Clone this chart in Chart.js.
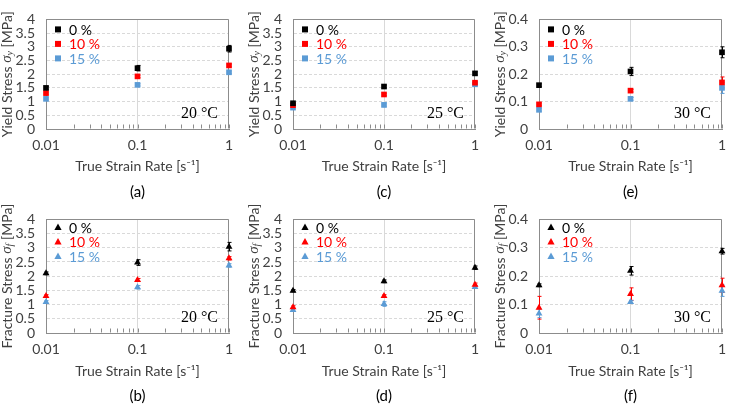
<!DOCTYPE html>
<html>
<head>
<meta charset="utf-8">
<script src="https://cdn.jsdelivr.net/npm/chart.js@4.4.1/dist/chart.umd.min.js"></script>
<style>
  html, body { margin: 0; padding: 0; background: #fff; }
  #fig { position: relative; width: 735px; height: 405px; overflow: hidden; }
  #fig canvas { position: absolute; }
</style>
</head>
<body>
<div id="fig"></div>
<script>
// ---- data ----
const strainRates  = [0.01, 0.1, 1];
const xGridValues  = [0.01, 0.02, 0.03, 0.04, 0.05, 0.06, 0.07, 0.08, 0.09,
                      0.1, 0.2, 0.3, 0.4, 0.5, 0.6, 0.7, 0.8, 0.9, 1];
const xTickLabels  = ["0.01", "0.1", "1"];
const seriesLabels = ["0 %", "10 %", "15 %"];
const ticksHigh    = [0, 0.5, 1, 1.5, 2, 2.5, 3, 3.5, 4];
const ticksLow     = [0, 0.1, 0.2, 0.3, 0.4];

// yield stress [MPa], rows = 0 %, 10 %, 15 %
const yield20    = [[1.50, 2.22, 2.93], [1.31, 1.92, 2.32], [1.10, 1.61, 2.07]];
const yield20Err = [[0.05, 0.10, 0.12], [0.04, 0.05, 0.05], [0.04, 0.04, 0.05]];
const yield25    = [[0.94, 1.55, 2.03], [0.87, 1.26, 1.69], [0.78, 0.88, 1.63]];
const yield25Err = [[0.04, 0.05, 0.06], [0.03, 0.04, 0.04], [0.04, 0.07, 0.05]];
const yield30    = [[0.16, 0.21, 0.28], [0.09, 0.14, 0.17], [0.07, 0.11, 0.15]];
const yield30Err = [[0.005, 0.015, 0.02], [0.005, 0.005, 0.02], [0.005, 0.005, 0.02]];

// fracture stress [MPa]
const fract20    = [[2.10, 2.48, 3.04], [1.30, 1.87, 2.63], [1.09, 1.61, 2.38]];
const fract20Err = [[0.05, 0.10, 0.15], [0.05, 0.05, 0.06], [0.05, 0.06, 0.06]];
const fract25    = [[1.49, 1.82, 2.30], [0.91, 1.30, 1.70], [0.81, 1.02, 1.62]];
const fract25Err = [[0.04, 0.05, 0.06], [0.05, 0.05, 0.06], [0.05, 0.08, 0.05]];
const fract30    = [[0.168, 0.219, 0.288], [0.089, 0.137, 0.168], [0.069, 0.109, 0.149]];
const fract30Err = [[0.005, 0.015, 0.01], [0.04, 0.022, 0.025], [0.015, 0.005, 0.02]];

// ---- style ----
const FONT   = 'Lato, "Open Sans", sans-serif';
const SERIF  = '"Liberation Serif", "DejaVu Serif", serif';
const TEXT   = "#404040";
const FRAME  = "#8c8c8c";
const GRID   = "#d9d9d9";
const COLORS = ["#000000", "#ff0000", "#5b9bd5"];

// panel layout: cell + plot rectangle (absolute px)
const panels = [
  { letter: "(a)", temp: "20 °C", kind: "Yield",    sub: "y", values: yield20, errors: yield20Err, ticks: ticksHigh, style: "rect",
    cell: [0, 0, 245, 200],   plot: [46, 14, 229, 129] },
  { letter: "(c)", temp: "25 °C", kind: "Yield",    sub: "y", values: yield25, errors: yield25Err, ticks: ticksHigh, style: "rect",
    cell: [245, 0, 245, 200], plot: [293, 14, 475, 129] },
  { letter: "(e)", temp: "30 °C", kind: "Yield",    sub: "y", values: yield30, errors: yield30Err, ticks: ticksLow, style: "rect",
    cell: [490, 0, 245, 200], plot: [539, 14, 722, 129] },
  { letter: "(b)", temp: "20 °C", kind: "Fracture", sub: "f", values: fract20, errors: fract20Err, ticks: ticksHigh, style: "triangle",
    cell: [0, 200, 245, 205],   plot: [46, 217, 229, 333] },
  { letter: "(d)", temp: "25 °C", kind: "Fracture", sub: "f", values: fract25, errors: fract25Err, ticks: ticksHigh, style: "triangle",
    cell: [245, 200, 245, 205], plot: [293, 217, 475, 333] },
  { letter: "(f)", temp: "30 °C", kind: "Fracture", sub: "f", values: fract30, errors: fract30Err, ticks: ticksLow, style: "triangle",
    cell: [490, 200, 245, 205], plot: [539, 217, 722, 333] },
];

const isMajor = (v) => strainRates.some((r) => Math.abs(r - v) < r * 1e-6);

function drawMarker(ctx, style, x, y, r, color) {
  ctx.fillStyle = color;
  ctx.beginPath();
  if (style === "rect") {
    ctx.rect(x - r, y - r, 2 * r, 2 * r);
  } else {
    ctx.moveTo(x, y - r * 1.1);
    ctx.lineTo(x + r, y + r * 0.75);
    ctx.lineTo(x - r, y + r * 0.75);
    ctx.closePath();
  }
  ctx.fill();
}

// frame, inner minor ticks, error bars
const underlay = {
  id: "underlay",
  beforeDatasetsDraw(chart) {
    const { ctx, chartArea: a, scales: { x, y } } = chart;
    ctx.save();
    ctx.strokeStyle = FRAME;
    ctx.lineWidth = 1;
    const L = Math.round(a.left) + 0.5, R = Math.round(a.right) - 0.5;
    const T = Math.round(a.top) + 0.5, B = Math.round(a.bottom) - 0.5;
    ctx.beginPath();
    ctx.moveTo(L, T); ctx.lineTo(R, T); ctx.lineTo(R, B);
    ctx.stroke();

    ctx.beginPath();
    xGridValues.forEach((v) => {
      const px = Math.round(x.getPixelForValue(v)) + 0.5;
      ctx.moveTo(px, B);
      ctx.lineTo(px, B - 4);
    });
    ctx.stroke();

    chart.data.datasets.forEach((ds) => {
      ctx.strokeStyle = ds.backgroundColor;
      ctx.beginPath();
      ds.data.forEach((p, j) => {
        const e = ds.errors[j];
        const px = Math.round(x.getPixelForValue(p.x)) + 0.5;
        const yt = y.getPixelForValue(p.y + e);
        const yb = y.getPixelForValue(p.y - e);
        ctx.moveTo(px, yt); ctx.lineTo(px, yb);
        ctx.moveTo(px - 2, yt); ctx.lineTo(px + 2, yt);
        ctx.moveTo(px - 2, yb); ctx.lineTo(px + 2, yb);
      });
      ctx.stroke();
    });
    ctx.restore();
  }
};

// legend, temperature, y title, panel letter
const overlay = {
  id: "overlay",
  afterDraw(chart, args, opts) {
    const { ctx, chartArea: a } = chart;
    const p = opts.panel;
    ctx.save();

    // legend inside plot
    ctx.textBaseline = "middle";
    ctx.textAlign = "left";
    ctx.font = "14px " + FONT;
    const top = p.style === "rect" ? 10 : 8;
    seriesLabels.forEach((lab, i) => {
      const cy = a.top + top + i * 14.5;
      drawMarker(ctx, p.style, a.left + 12, cy, p.style === "rect" ? 3 : 3.6, COLORS[i]);
      ctx.fillStyle = COLORS[i];
      ctx.fillText(lab, a.left + 23, cy + 1);
    });

    // temperature
    ctx.font = "16px " + SERIF;
    ctx.fillStyle = "#000";
    ctx.textAlign = "right";
    ctx.fillText(p.temp, a.right - 11, a.bottom - 15);

    // panel letter
    ctx.font = "15px " + FONT;
    ctx.textAlign = "center";
    ctx.fillStyle = "#000";
    ctx.fillText(p.letter, (a.left + a.right) / 2, a.bottom + 63);

    // rotated y title with italic sigma and subscript
    const parts = [
      { t: p.kind + " Stress ", f: "14px " + FONT, dy: 0 },
      { t: "σ", f: "italic 15px " + SERIF, dy: 0 },
      { t: p.sub, f: "italic 10px " + SERIF, dy: 3 },
      { t: " [MPa]", f: "14px " + FONT, dy: 0 },
    ];
    let w = 0;
    parts.forEach((q) => { ctx.font = q.f; q.w = ctx.measureText(q.t).width; w += q.w; });
    ctx.translate(a.left - 39, (a.top + a.bottom) / 2);
    ctx.rotate(-Math.PI / 2);
    ctx.fillStyle = TEXT;
    ctx.textAlign = "left";
    let cx = -w / 2;
    parts.forEach((q) => {
      ctx.font = q.f;
      ctx.fillText(q.t, cx, q.dy);
      cx += q.w;
    });
    ctx.restore();
  }
};

const fig = document.getElementById("fig");

panels.forEach((p) => {
  const [cx, cy, cw, ch] = p.cell;
  const [pl, pt, pr, pb] = p.plot;
  const canvas = document.createElement("canvas");
  canvas.width = cw; canvas.height = ch;
  canvas.style.left = cx + "px"; canvas.style.top = cy + "px";
  canvas.style.width = cw + "px"; canvas.style.height = ch + "px";
  fig.appendChild(canvas);

  const datasets = seriesLabels.map((lab, i) => ({
    label: lab,
    data: strainRates.map((r, j) => ({ x: r, y: p.values[i][j] })),
    errors: p.errors[i],
    backgroundColor: COLORS[i],
    borderColor: COLORS[i],
    pointStyle: p.style,
    pointRadius: 4,
    pointBorderWidth: 0,
    clip: false,
  }));

  new Chart(canvas, {
    type: "scatter",
    data: { datasets },
    options: {
      responsive: false,
      animation: false,
      devicePixelRatio: 1,
      layout: { padding: { top: pt - cy, right: cx + cw - pr, left: 0, bottom: 0 } },
      plugins: {
        legend: { display: false },
        tooltip: { enabled: false },
        overlay: { panel: p },
      },
      scales: {
        x: {
          type: "logarithmic",
          min: 0.01, max: 1,
          afterBuildTicks: (s) => { s.ticks = xGridValues.map((v) => ({ value: v })); },
          afterFit: (s) => { s.height = cy + ch - pb; },
          grid: {
            drawTicks: false,
            color: (c) => (c.tick && Math.abs(c.tick.value - 0.1) < 1e-9 ? GRID : "rgba(0,0,0,0)"),
          },
          border: { color: FRAME },
          ticks: {
            autoSkip: false, maxRotation: 0, padding: 8,
            color: TEXT, font: { family: FONT, size: 14 },
            callback: (v) => (isMajor(v) ? xTickLabels[strainRates.findIndex((r) => Math.abs(r - v) < r * 1e-6)] : ""),
          },
          title: {
            display: true, text: "True Strain Rate [s⁻¹]",
            color: TEXT, font: { family: FONT, size: 14 },
            padding: { top: 0, bottom: 25 },
          },
        },
        y: {
          min: 0, max: p.ticks[p.ticks.length - 1],
          afterBuildTicks: (s) => { s.ticks = p.ticks.map((v) => ({ value: v })); },
          afterFit: (s) => { s.width = pl - cx; },
          grid: { drawTicks: false, color: GRID },
          border: { color: FRAME, dash: [3, 2] },
          ticks: {
            autoSkip: false, padding: 11, color: TEXT, font: { family: FONT, size: 14 },
            callback: (v) => String(+v.toFixed(2)),
          },
        },
      },
    },
    plugins: [underlay, overlay],
  });
});
</script>
</body>
</html>
